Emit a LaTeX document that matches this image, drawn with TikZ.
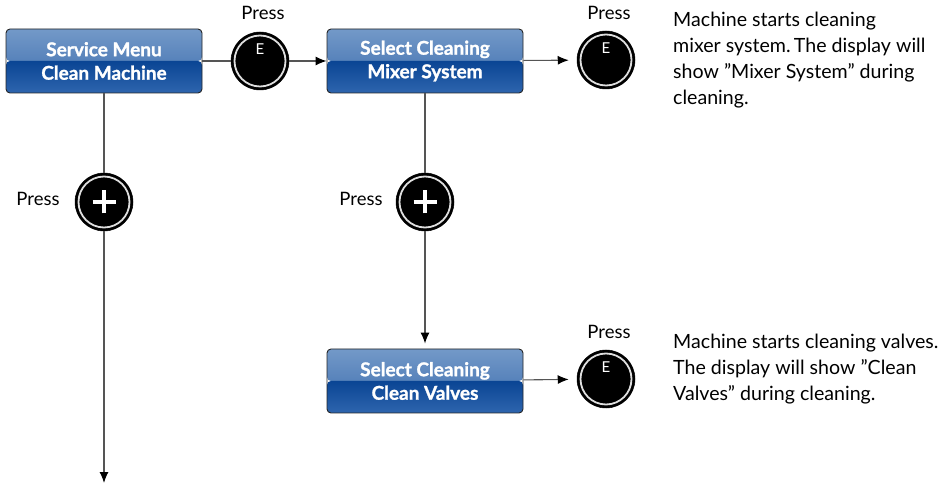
\documentclass[tikz,border=0pt]{standalone}
\usepackage{fontspec}
\setmainfont{Lato}
\newfontfamily\boxfont{Lato}[UprightFont={* Bold}, UprightFeatures={FakeBold=1.3}]
\usetikzlibrary{arrows.meta}
\definecolor{bA}{HTML}{7399C8}
\definecolor{bB}{HTML}{3A6BAD}
\definecolor{bC}{HTML}{0A4594}
\definecolor{bD}{HTML}{2E65AE}
\definecolor{lineg}{HTML}{555555}
\tikzset{
  menubox/.style={rounded corners=4pt, draw=black!85, line width=0.9pt,
    minimum width=196pt, minimum height=64pt, inner sep=0pt,
    text=white, font=\boxfont\fontsize{19}{23.5}\selectfont, align=center,
    path picture={
      \shade[top color=bA, bottom color=bB]
        (path picture bounding box.north west) rectangle (path picture bounding box.east);
      \shade[top color=bC, bottom color=bD]
        (path picture bounding box.west) rectangle (path picture bounding box.south east);
    }},
  button/.style={circle, fill=black, draw=black, line width=0.5pt, minimum size=58pt, inner sep=0pt,
    path picture={
      \draw[gray!25, line width=1.8pt] (path picture bounding box.center) circle (25.5pt);
    }},
  plusbtn/.style={button, path picture={
      \draw[gray!25, line width=1.8pt] (path picture bounding box.center) circle (25.5pt);
      \draw[white, line width=3.4pt] ([xshift=-11.5pt]path picture bounding box.center) -- ([xshift=11.5pt]path picture bounding box.center);
      \draw[white, line width=3.4pt] ([yshift=-11.5pt]path picture bounding box.center) -- ([yshift=11.5pt]path picture bounding box.center);
    }},
  elabel/.style={text=white, font=\fontsize{15}{17}\selectfont, inner sep=0pt},
  presslbl/.style={font=\fontsize{18.5}{20}\selectfont, inner sep=0pt, anchor=base},
  desc/.style={font=\fontsize{19.6}{26}\selectfont, align=left, anchor=base west, inner sep=0pt},
  conn/.style={draw=lineg, line width=1.1pt},
  arr/.style={conn, -{Latex[length=11pt,width=9pt,color=black]}},
}
\begin{document}
\begin{tikzpicture}[x=1pt,y=-1pt]
\useasboundingbox (0,0) rectangle (943,486);

\node[menubox] (b1) at (104,61) {Service Menu\\Clean Machine};
\node[menubox] (b2) at (425,61) {Select Cleaning\\Mixer System};
\node[menubox] (b3) at (425,381) {Select Cleaning\\Clean Valves};

\node[button] (e1) at (260,61) {};
\node[button] (e2) at (606,60) {};
\node[button] (e3) at (606,379) {};
\node[elabel] at ([yshift=12pt]e1.center) {E};
\node[elabel] at ([yshift=12pt]e2.center) {E};
\node[elabel] at ([yshift=12pt]e3.center) {E};

\node[plusbtn] (p1) at (104,202) {};
\node[plusbtn] (p2) at (425,202) {};

\node[presslbl] (pr1) at (263,20) {Press};
\node[presslbl] (pr2) at (609,20) {Press};
\node[presslbl] (pr3) at (609,339) {Press};
\node[presslbl] (pr4) at (38,206) {Press};
\node[presslbl] (pr5) at (361,206) {Press};

\node[desc] (d1) at (673,105) {Machine starts cleaning\\mixer system.\,The display will\\show ”Mixer System” during\\cleaning.};
\node[desc] (d2) at (673,401) {Machine starts cleaning valves.\\The display will show ”Clean\\Valves” during cleaning.};

\coordinate (end) at (104,483);

\draw[conn] (b1) -- (e1);
\draw[arr] (e1) -- (b2);
\draw[arr, shorten >=8pt] (b2) -- (e2);
\draw[arr, shorten >=8pt] (b3) -- (e3);
\draw[conn] (b1) -- (p1);
\draw[arr] (p1) -- (end);
\draw[conn] (b2) -- (p2);
\draw[arr, shorten >=5pt] (p2) -- (b3);
\end{tikzpicture}
\end{document}
